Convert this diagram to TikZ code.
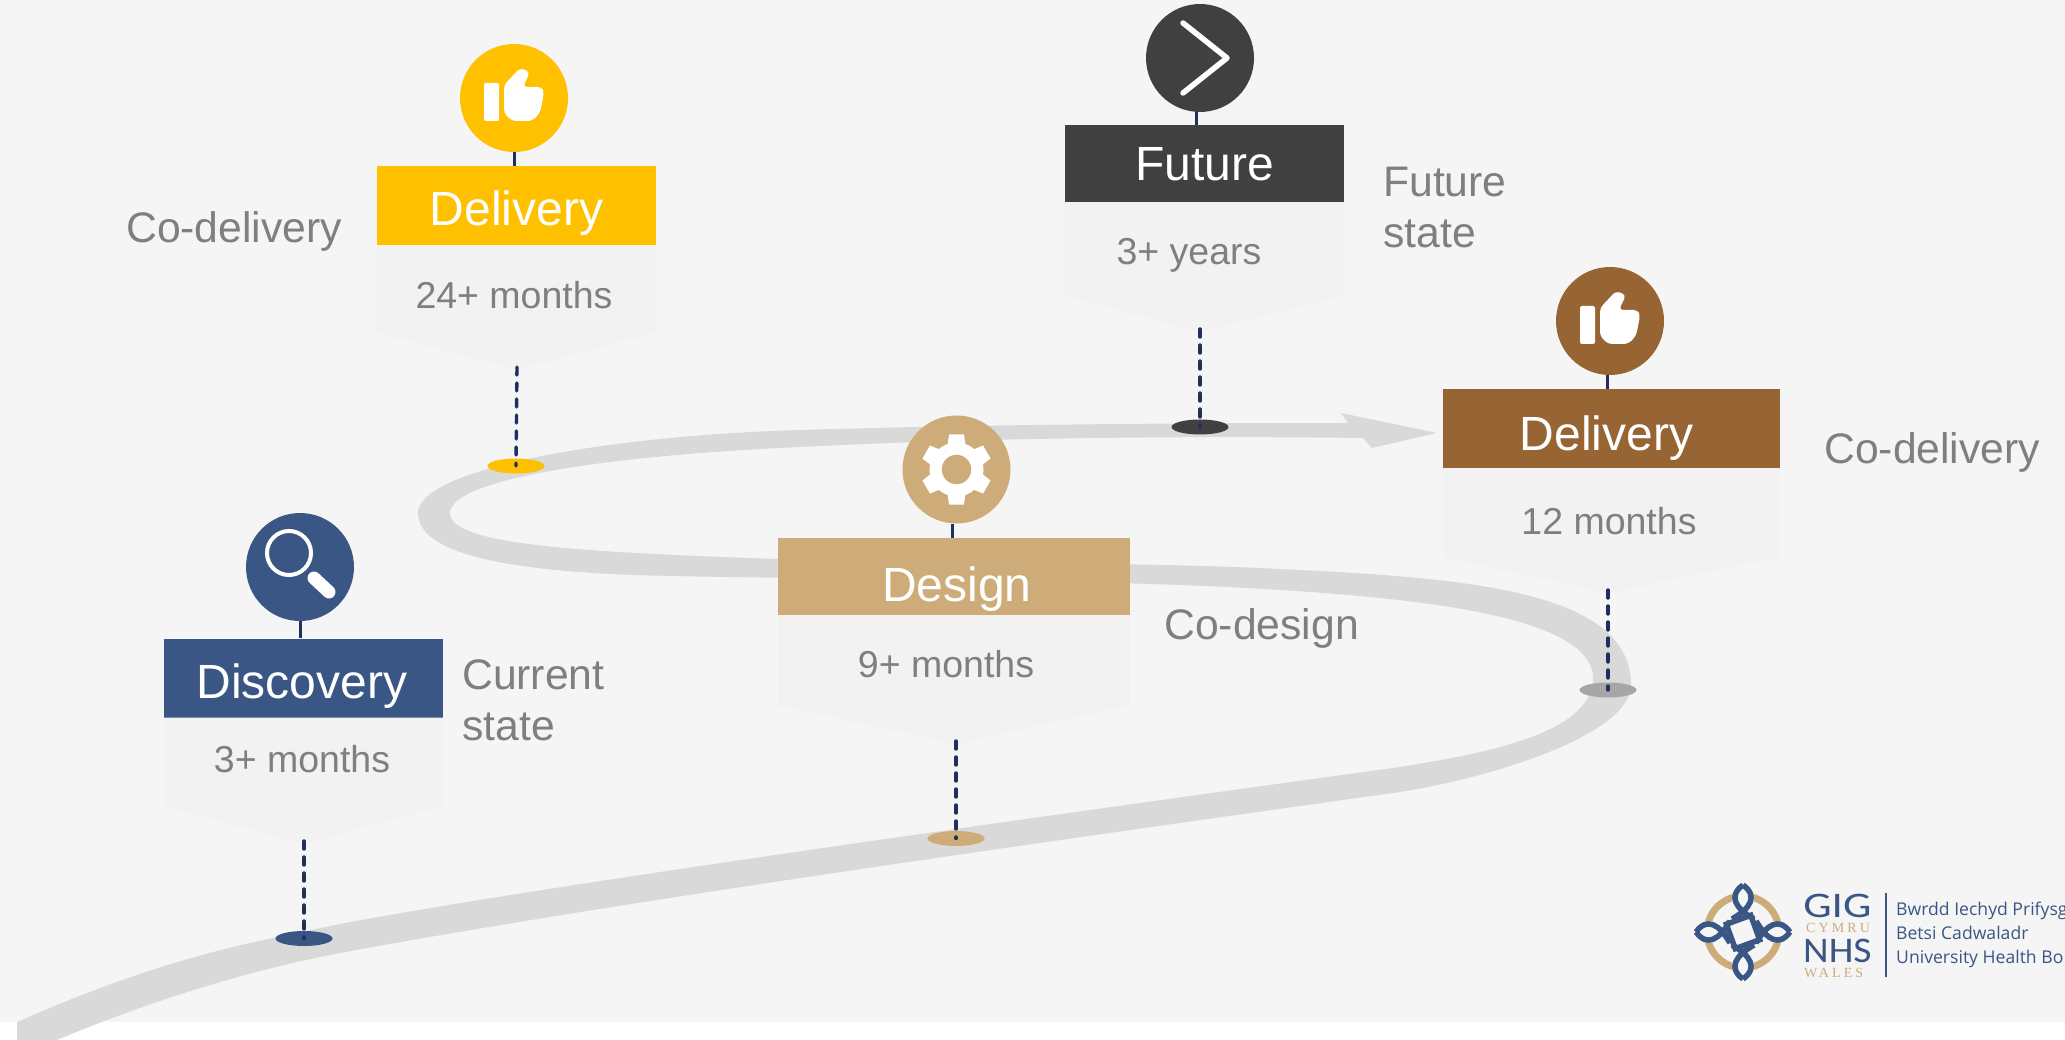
\documentclass[tikz,border=0pt]{standalone}
\usepackage{fontspec}
\usepackage{xcolor}
\setmainfont{Liberation Sans}
\newfontfamily\logofont{Carlito}
\newfontfamily\logospaced[LetterSpace=22]{Liberation Serif}
\newfontfamily\boardfont{Open Sans}
\usetikzlibrary{shapes.geometric, positioning, calc}
\definecolor{pagegrey}{HTML}{F5F5F5}
\definecolor{roadgrey}{HTML}{D9D9D9}
\definecolor{cardgrey}{HTML}{F2F2F2}
\definecolor{textgrey}{HTML}{7F7F7F}
\definecolor{pinblue}{HTML}{1F2F5F}
\definecolor{discblue}{HTML}{3A5685}
\definecolor{delyellow}{HTML}{FFC000}
\definecolor{designtan}{HTML}{CDAC7A}
\definecolor{futuredark}{HTML}{404040}
\definecolor{delbrown}{HTML}{976534}
\definecolor{spotgrey}{HTML}{A6A6A6}
\tikzset{
  iconcircle/.style={circle, minimum size=108pt, inner sep=0},
  headbox/.style={minimum width=279pt, minimum height=79pt, inner sep=0, text=white, text height=40pt, text depth=0pt, font=\fontsize{48}{48}\selectfont},
  spot/.style={ellipse, minimum width=57pt, minimum height=15pt, inner sep=0},
  cardtext/.style={text=textgrey, inner sep=0, text height=27pt, text depth=0pt, font=\fontsize{37.5}{37.5}\selectfont},
  sidetext/.style={text=textgrey, inner sep=0, anchor=west, align=left, font=\fontsize{42.7}{51}\selectfont},
  stem/.style={draw=pinblue, line width=3pt},
  dashline/.style={draw=pinblue, line width=3.4pt, line cap=round, dash pattern=on 8pt off 8pt},
  boardtext/.style={text=discblue, inner sep=0, anchor=base west, font=\boardfont\fontsize{17.6}{17.6}\selectfont},
  knot/.style={draw=discblue, line width=5.5pt},
  thumb/.pic={
    \fill[white, rounded corners=2pt] (-30,-15) rectangle (-15,23);
    \fill[white, rounded corners=4pt] (-10,-13) -- (6,-30) -- (16,-26) -- (9,-11) -- (28,-11) -- (30,-5) -- (26,15) -- (18,23) -- (-2,23) -- (-10,15) -- cycle;
  }
}

\begin{document}
\begin{tikzpicture}[x=1pt, y=-1pt]
  \useasboundingbox (0,0) rectangle (2065,1040);
  \fill[white] (0,0) rectangle (2065,1040);
  \fill[pagegrey] (0,0) rectangle (2065,1022);

  \fill[roadgrey] (17,1022) .. controls (170,955) and (250,943) .. (340,924)
    .. controls (530,888) and (1000,822) .. (1400,767)
    .. controls (1480,754) and (1590,735) .. (1593,680)
    .. controls (1596,620) and (1440,600) .. (1280,590)
    .. controls (1100,578) and (800,580) .. (633,575)
    .. controls (500,570) and (418,552) .. (418,513)
    .. controls (418,470) and (600,436) .. (800,430)
    .. controls (1000,424) and (1200,423) .. (1348,423)
    -- (1341,413) -- (1437,433) -- (1372,448) -- (1363,438)
    .. controls (1200,436) and (1000,437) .. (800,447)
    .. controls (600,456) and (450,480) .. (450,513)
    .. controls (450,545) and (580,552) .. (777,559)
    .. controls (950,564) and (1150,562) .. (1280,569)
    .. controls (1470,578) and (1631,591) .. (1631,685)
    .. controls (1631,735) and (1490,778) .. (1400,792)
    .. controls (1000,848) and (600,905) .. (340,953)
    .. controls (240,972) and (140,1005) .. (57,1040)
    -- (17,1040) -- cycle;

  \node[spot, fill=discblue] (spotdisc) at (304,938.5) {};
  \node[spot, fill=delyellow] (spotdelone) at (516,466) {};
  \node[spot, fill=designtan] (spotdesign) at (956,838.5) {};
  \node[spot, fill=futuredark] (spotfuture) at (1200,427) {};
  \node[spot, fill=spotgrey] (spotdeltwo) at (1608,690) {};

  \node[headbox, fill=discblue] (headdisc) at (303.5,678) {\hspace*{-3pt}Discovery};
  \node[headbox, fill=delyellow] (headdelone) at (516.5,205.5) {Delivery};
  \node[headbox, fill=designtan, minimum width=352pt, minimum height=77pt, text height=50pt] (headdesign) at (954,576.5) {\hspace*{6pt}Design};
  \node[headbox, fill=futuredark, minimum height=77pt, text height=34pt] (headfuture) at (1204.5,163.5) {Future};
  \node[headbox, fill=delbrown, minimum width=337pt, text height=45pt] (headdeltwo) at (1611.5,428.5) {\hspace*{-10pt}Delivery};

  \coordinate (tipdisc) at (304,844);
  \coordinate (tipdelone) at (517,370);
  \coordinate (tipdesign) at (956,744);
  \coordinate (tipfuture) at (1200,332);
  \coordinate (tipdeltwo) at (1608,593);

  \fill[cardgrey] (headdisc.south east) -- ++(0,88) -- (tipdisc) -- ($(headdisc.south west)+(0,88)$) -- (headdisc.south west) -- cycle;
  \fill[cardgrey] (headdelone.south east) -- ++(0,87) -- (tipdelone) -- ($(headdelone.south west)+(0,87)$) -- (headdelone.south west) -- cycle;
  \fill[cardgrey] (headdesign.south east) -- ++(0,90) -- (tipdesign) -- ($(headdesign.south west)+(0,90)$) -- (headdesign.south west) -- cycle;
  \fill[cardgrey] (headfuture.south east) -- ++(0,93) -- (tipfuture) -- ($(headfuture.south west)+(0,93)$) -- (headfuture.south west) -- cycle;
  \fill[cardgrey] (headdeltwo.south east) -- ++(0,89) -- (tipdeltwo) -- ($(headdeltwo.south west)+(0,89)$) -- (headdeltwo.south west) -- cycle;

  \draw[dashline] ([yshift=3pt]tipdisc) -- (spotdisc.center);
  \draw[dashline] ([yshift=3pt]tipdelone) -- (spotdelone.center);
  \draw[dashline] ([yshift=3pt]tipdesign) -- (spotdesign.center);
  \draw[dashline] ([yshift=3pt]tipfuture) -- (spotfuture.center);
  \draw[dashline] ([yshift=3pt]tipdeltwo) -- (spotdeltwo.center);

  \node[iconcircle, fill=discblue] (icondisc) at (300,567) {};
  \node[iconcircle, fill=delyellow] (icondelone) at (514,98) {};
  \node[iconcircle, fill=designtan] (icondesign) at (956.5,469.5) {};
  \node[iconcircle, fill=futuredark] (iconfuture) at (1200,58) {};
  \node[iconcircle, fill=delbrown] (icondeltwo) at (1610,321) {};

  \draw[stem] (icondisc.south) -- (icondisc.south |- headdisc.north);
  \draw[stem] (icondelone.south) -- (icondelone.south |- headdelone.north);
  \draw[stem] ([xshift=-4pt]icondesign.south) -- ([xshift=-4pt]icondesign.south |- headdesign.north);
  \draw[stem] ([xshift=-4pt]iconfuture.south) -- ([xshift=-4pt]iconfuture.south |- headfuture.north);
  \draw[stem] ([xshift=-3pt]icondeltwo.south) -- ([xshift=-3pt]icondeltwo.south |- headdeltwo.north);

  \draw[white, line width=4pt] (289,553) circle (22);
  \draw[white, line width=13pt, line cap=round] (314,578) -- (329,592);

  \pic at (icondelone) {thumb};
  \pic at (icondeltwo) {thumb};

  \foreach \a in {0,60,...,300} {
    \fill[white, shift={(icondesign)}, rotate=\a] (-9,-24) -- (-7.5,-35) -- (7.5,-35) -- (9,-24) -- cycle;
  }
  \fill[white] (icondesign) circle (27);
  \fill[designtan] (icondesign) circle (14.7);

  \draw[white, line width=5.5pt, line cap=round, line join=round] (1183,23) -- (1227,58) -- (1183,93);

  \node[cardtext] (carddisc) at (302,759) {3+ months};
  \node[cardtext] (carddelone) at (514,295) {24+ months};
  \node[cardtext] (carddesign) at (946,664) {9+ months};
  \node[cardtext] (cardfuture) at (1189,251) {3+ years};
  \node[cardtext] (carddeltwo) at (1609,521) {12 months};

  \node[sidetext] (sidedisc) at (462,700) {Current\\state};
  \node[sidetext, text height=30pt, text depth=0pt] (sidedelone) at (126,228) {Co-delivery};
  \node[sidetext, text height=30pt, text depth=0pt] (sidedesign) at (1164,624) {Co-design};
  \node[sidetext] (sidefuture) at (1383,208) {Future\\state};
  \node[sidetext, text height=30pt, text depth=0pt] (sidedeltwo) at (1824,449) {Co-delivery};

  \draw[designtan, line width=7pt] (1743,932) circle (36);
  \foreach \a in {0,90,180,270} {
    \begin{scope}[shift={(1743,932)}, rotate=\a]
      \fill[pagegrey] (0,-50) .. controls (-18,-36) and (-10,-22) .. (0,-12) .. controls (10,-22) and (18,-36) .. (0,-50) -- cycle;
      \draw[knot] (0,-47) .. controls (-15,-36) and (-8,-24) .. (11,-13);
      \draw[knot] (0,-47) .. controls (15,-36) and (8,-24) .. (-11,-13);
    \end{scope}
  }
  \draw[knot, rotate around={20:(1743,932)}] (1730,919) rectangle (1756,945);

  \node[inner sep=0, anchor=base west, text=discblue, xscale=1.25, font=\logofont\fontsize{36}{36}\selectfont] (loggig) at (1803,917) {GIG};
  \node[inner sep=0, anchor=base west, text=designtan, font=\logospaced\fontsize{14}{14}\selectfont] (logcymru) at (1806,932) {CYMRU};
  \node[inner sep=0, anchor=base west, text=discblue, xscale=1.1, font=\logofont\fontsize{36}{36}\selectfont] (lognhs) at (1803,962) {NHS};
  \node[inner sep=0, anchor=base west, text=designtan, font=\logospaced\fontsize{14}{14}\selectfont] (logwales) at (1804,977) {WALES};
  \draw[discblue, line width=2pt] (1886,893) -- (1886,977);

  \node[boardtext] (boardone) at (1896,915) {Bwrdd Iechyd Prifysg};
  \node[boardtext] (boardtwo) at (1896,939) {Betsi Cadwaladr};
  \node[boardtext] (boardthree) at (1896,963) {University Health Bo};
\end{tikzpicture}
\end{document}
